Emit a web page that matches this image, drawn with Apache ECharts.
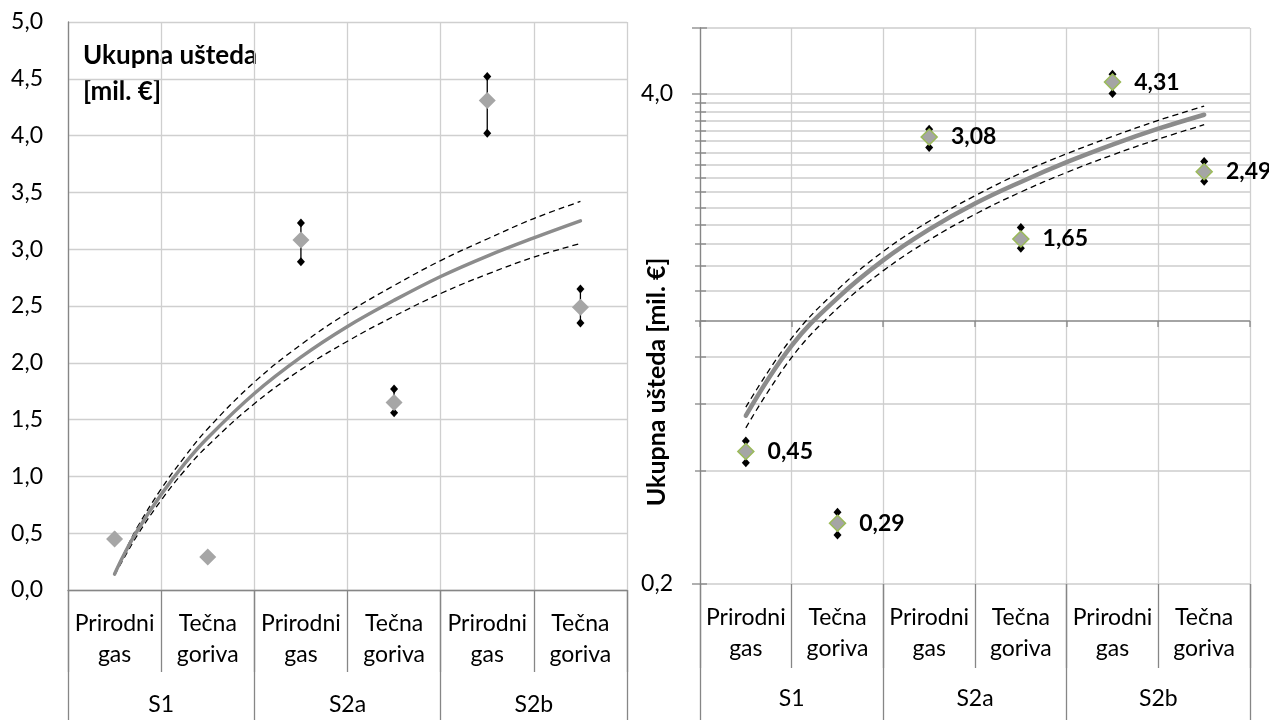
<!DOCTYPE html>
<html><head><meta charset="utf-8">
<script src="https://cdn.jsdelivr.net/npm/echarts@6/dist/echarts.min.js"></script>
<style>html,body{margin:0;padding:0;background:#fff}#c{width:1269px;height:720px}</style>
</head><body><div id="c"></div>
<script>
// ---------- data ----------
const categories = ['Prirodni\ngas', 'Tečna\ngoriva', 'Prirodni\ngas', 'Tečna\ngoriva', 'Prirodni\ngas', 'Tečna\ngoriva'];
const groups = ['S1', 'S2a', 'S2b'];
const savings = [0.45, 0.29, 3.08, 1.65, 4.31, 2.49];
const errorHigh = [0.48, 0.31, 3.23, 1.77, 4.52, 2.65];
const errorLow = [0.42, 0.27, 2.89, 1.56, 4.02, 2.35];

// left chart trend lines (x = category position 1..6)
const leftTrendX = [1, 1.1, 1.25, 1.5, 1.75, 2, 2.5, 3, 3.5, 4, 4.5, 5, 5.5, 6];
const leftTrend = [0.14, 0.31, 0.53, 0.84, 1.11, 1.34, 1.73, 2.05, 2.32, 2.55, 2.76, 2.94, 3.10, 3.25];
const leftTrendHigh = [0.15, 0.32, 0.56, 0.89, 1.17, 1.42, 1.83, 2.16, 2.44, 2.68, 2.90, 3.09, 3.27, 3.42];
const leftTrendLow = [0.13, 0.28, 0.49, 0.79, 1.05, 1.27, 1.64, 1.94, 2.19, 2.41, 2.61, 2.78, 2.93, 3.05];

// right chart trend lines (log axis)
const rightTrendX = [1, 1.5, 2, 2.5, 3, 3.5, 4, 4.5, 5, 5.5, 6];
const rightTrend = [0.56, 0.86, 1.15, 1.45, 1.75, 2.05, 2.34, 2.64, 2.94, 3.24, 3.53];
const rightTrendHigh = [0.59, 0.90, 1.21, 1.53, 1.84, 2.15, 2.47, 2.78, 3.09, 3.41, 3.72];
const rightTrendLow = [0.52, 0.80, 1.08, 1.36, 1.64, 1.92, 2.20, 2.48, 2.76, 3.04, 3.32];

// axis ticks
const leftMin = 0, leftMax = 5, leftStep = 0.5;
const rightMin = 0.2, rightMax = 6;
const rightLabelTicks = [0.2, 4.0];
const rightAxisTicks = [0.2, 0.4, 0.6, 0.8, 1.0, 1.2, 1.4, 1.6, 1.8, 2.0, 2.2, 2.4, 2.6, 2.8, 3.0, 3.2, 3.4, 3.6, 3.8, 4.0, 6.0];
const axisCross = 1.0;

// ---------- styling ----------
const FONT = 'Lato';
const GRID_C = '#cfcfcf';
const GRID_C2 = '#cccccc';
const AXIS_C = '#868686';
const fmt1 = v => v.toFixed(1).replace('.', ',');
const fmt2 = v => v.toFixed(2).replace('.', ',');
const snap = p => Math.round(p);

const pairs = (xs, ys) => xs.map((x, i) => [x, ys[i]]);
const errData = savings.map((v, i) => [i, errorLow[i], errorHigh[i]]);
const pointData = savings.map((v, i) => [i, v]);

function seg(x1, y1, x2, y2, c, w) {
  return { type: 'line', shape: { x1, y1, x2, y2 }, style: { stroke: c, lineWidth: w || 1 } };
}
function renderErr(params, api) {
  const top = api.coord([api.value(0), api.value(2)]);
  const bot = api.coord([api.value(0), api.value(1)]);
  const dia = p => ({ type: 'polygon', shape: { points: [[p[0], p[1] - 4.5], [p[0] + 4, p[1]], [p[0], p[1] + 4.5], [p[0] - 4, p[1]]] }, style: { fill: '#000' } });
  return { type: 'group', children: [seg(top[0], top[1], bot[0], bot[1], '#000', 1.3), dia(top), dia(bot)] };
}
// right log axis: gridlines (only the lines, drawn below the marks)
function renderRightGrid(params, api) {
  const cs = params.coordSys;
  const v = api.value(1);
  if (v === axisCross) return null;
  const y = snap(api.coord([0, v])[1]);
  return { type: 'group', children: [seg(cs.x, y, cs.x + cs.width, y, GRID_C2, 1.5)] };
}
// right log axis: ticks, labels and the crossing axis line at 1,0
function renderRightAxis(params, api) {
  const cs = params.coordSys;
  const v = api.value(1);
  const y = snap(api.coord([0, v])[1]);
  const ch = [];
  const major = rightLabelTicks.indexOf(v) >= 0 || v === rightMax;
  if (v === axisCross) {
    ch.push(seg(cs.x, y, cs.x + cs.width, y, AXIS_C, 1.5));
    const bw = api.size([1, 0])[0];
    for (let k = 0; k < categories.length; k++) {
      const bx = snap(api.coord([k, v])[0] - bw / 2);
      ch.push(seg(bx, y, bx, y + 6, AXIS_C, 1.3));
    }
    const ex = snap(cs.x + cs.width);
    ch.push(seg(ex, y, ex, y + 6, AXIS_C, 1.3));
  }
  if (major) ch.push(seg(cs.x - 8, y, cs.x + 7, y, AXIS_C, 1.3));
  else ch.push(seg(cs.x - 5, y, cs.x + 6, y, AXIS_C, 1.3));
  if (rightLabelTicks.indexOf(v) >= 0) {
    ch.push({ type: 'text', x: cs.x - 27, y: y,
      style: { text: fmt1(v), font: '23px ' + FONT, fill: '#000', align: 'right', verticalAlign: 'middle',
        textAlign: 'right', textVerticalAlign: 'middle' } });
  }
  return { type: 'group', children: ch };
}

const catLabel = { interval: 0, fontSize: 23, lineHeight: 31, color: '#000', margin: 18, fontFamily: FONT };
const grpLabel = { interval: 0, fontSize: 23, lineHeight: 31, color: '#000', margin: 99, fontFamily: FONT };

const option = {
  animation: false,
  textStyle: { fontFamily: FONT },
  grid: [
    { left: 68, top: 22, width: 559, height: 574 },
    { left: 700, top: 28, width: 550, height: 556 }
  ],
  xAxis: [
    { gridIndex: 0, type: 'category', data: categories, position: 'bottom',
      axisLine: { show: true, lineStyle: { color: AXIS_C, width: 1.3 } },
      axisTick: { show: true, interval: 0, length: 82, lineStyle: { color: AXIS_C, width: 1.3 } },
      axisLabel: catLabel,
      splitLine: { show: true, interval: 0, lineStyle: { color: GRID_C, width: 1.3 } } },
    { gridIndex: 0, type: 'category', data: groups, position: 'bottom',
      axisLine: { show: false },
      axisTick: { show: true, interval: 0, length: 130, lineStyle: { color: AXIS_C, width: 1.3 } },
      axisLabel: grpLabel, splitLine: { show: false } },
    { gridIndex: 0, type: 'value', min: 0.5, max: 6.5, show: false },
    { gridIndex: 1, type: 'category', data: categories, position: 'bottom',
      axisLine: { show: false, onZero: false },
      axisTick: { show: true, interval: 0, length: 84, lineStyle: { color: AXIS_C, width: 1.3 } },
      axisLabel: catLabel,
      splitLine: { show: true, interval: 0, lineStyle: { color: GRID_C, width: 1.3 } } },
    { gridIndex: 1, type: 'category', data: groups, position: 'bottom',
      axisLine: { show: false, onZero: false },
      axisTick: { show: true, interval: 0, length: 136, lineStyle: { color: AXIS_C, width: 1.3 } },
      axisLabel: grpLabel, splitLine: { show: false } },
    { gridIndex: 1, type: 'value', min: 0.5, max: 6.5, show: false, axisLine: { onZero: false } }
  ],
  yAxis: [
    { gridIndex: 0, type: 'value', min: leftMin, max: leftMax, interval: leftStep,
      axisLine: { show: true, onZero: false, lineStyle: { color: AXIS_C, width: 1.3 } },
      axisTick: { show: false },
      axisLabel: { formatter: fmt1, fontSize: 23, color: '#000', margin: 25, fontFamily: FONT },
      splitLine: { show: true, lineStyle: { color: GRID_C, width: 1.3 } } },
    { gridIndex: 1, type: 'log', logBase: 20, min: rightMin, max: rightMax,
      axisLine: { show: true, onZero: false, lineStyle: { color: AXIS_C, width: 1.3 } },
      axisTick: { show: false },
      axisLabel: { show: false },
      splitLine: { show: false } }
  ],
  graphic: [
    { type: 'text', left: 83, top: 38, style: { text: 'Ukupna ušteda\n[mil. €]', font: 'bold 26px Lato', lineHeight: 36, fill: '#000' } },
    { type: 'text', x: 657, y: 382, rotation: Math.PI / 2,
      style: { text: 'Ukupna ušteda [mil. €]', font: 'bold 25px Lato', fill: '#000', align: 'center', verticalAlign: 'middle', textAlign: 'center', textVerticalAlign: 'middle' } }
  ],
  series: [
    // right axis gridlines (below everything)
    { type: 'custom', xAxisIndex: 3, yAxisIndex: 1, silent: true, z: 0, clip: false,
      data: rightAxisTicks.map(v => [0, v]), renderItem: renderRightGrid },
    // right axis ticks, labels and crossing axis
    { type: 'custom', xAxisIndex: 3, yAxisIndex: 1, silent: true, z: 1, clip: false,
      data: rightAxisTicks.map(v => [0, v]), renderItem: renderRightAxis },
    // left chart
    { type: 'custom', xAxisIndex: 0, yAxisIndex: 0, silent: true, data: errData, renderItem: renderErr },
    { type: 'line', xAxisIndex: 2, yAxisIndex: 0, data: pairs(leftTrendX, leftTrendHigh), smooth: 0.4, showSymbol: false, silent: true,
      lineStyle: { color: '#000', width: 1.3, type: [6, 4] } },
    { type: 'line', xAxisIndex: 2, yAxisIndex: 0, data: pairs(leftTrendX, leftTrendLow), smooth: 0.4, showSymbol: false, silent: true,
      lineStyle: { color: '#000', width: 1.3, type: [6, 4] } },
    { type: 'line', xAxisIndex: 2, yAxisIndex: 0, data: pairs(leftTrendX, leftTrend), smooth: 0.4, showSymbol: false, silent: true,
      lineStyle: { color: '#8c8c8c', width: 3.5, cap: 'round' } },
    { type: 'scatter', xAxisIndex: 0, yAxisIndex: 0, data: pointData, symbol: 'diamond', symbolSize: [17, 17],
      itemStyle: { color: '#a6a6a6', opacity: 1 } },
    // right chart
    { type: 'custom', xAxisIndex: 3, yAxisIndex: 1, silent: true, data: errData, renderItem: renderErr },
    { type: 'line', xAxisIndex: 5, yAxisIndex: 1, data: pairs(rightTrendX, rightTrendHigh), smooth: 0.4, showSymbol: false, silent: true,
      lineStyle: { color: '#000', width: 1.3, type: [6, 4] } },
    { type: 'line', xAxisIndex: 5, yAxisIndex: 1, data: pairs(rightTrendX, rightTrendLow), smooth: 0.4, showSymbol: false, silent: true,
      lineStyle: { color: '#000', width: 1.3, type: [6, 4] } },
    { type: 'line', xAxisIndex: 5, yAxisIndex: 1, data: pairs(rightTrendX, rightTrend), smooth: 0.4, showSymbol: false, silent: true,
      lineStyle: { color: '#8c8c8c', width: 4.5, cap: 'round' } },
    { type: 'scatter', xAxisIndex: 3, yAxisIndex: 1, data: pointData, symbol: 'diamond', symbolSize: [16, 16],
      itemStyle: { color: '#a5a5a5', borderColor: '#9bbb59', borderWidth: 1.5, opacity: 1 },
      label: { show: true, position: 'right', distance: 13, formatter: p => fmt2(p.value[1]),
        fontSize: 23, fontWeight: 'bold', color: '#000', fontFamily: FONT } }
  ]
};
const chart = echarts.init(document.getElementById('c'), null, { renderer: 'canvas' });
chart.setOption(option);
</script>
</body></html>
